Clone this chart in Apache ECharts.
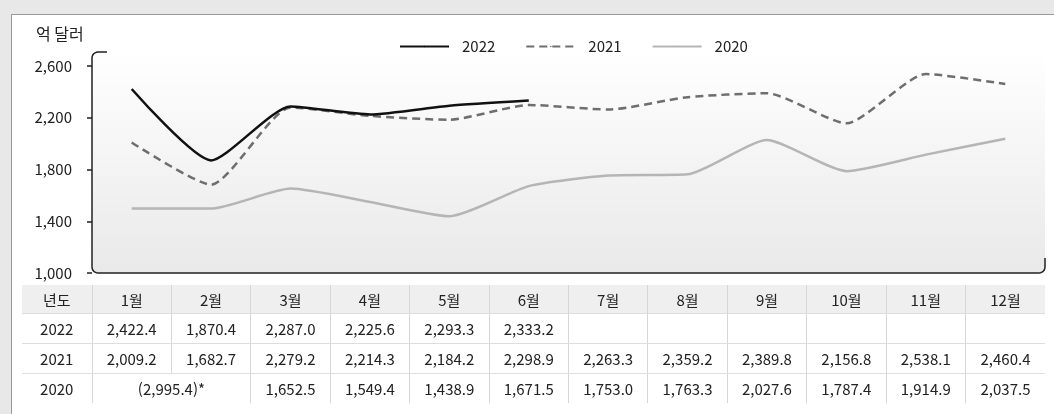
<!DOCTYPE html>
<html lang="ko">
<head>
<meta charset="utf-8">
<title>월별 수출액</title>
<script src="https://cdn.jsdelivr.net/npm/echarts@6/dist/echarts.min.js"></script>
<style>
  html, body {
    margin: 0;
    padding: 0;
    background: #e8e8e8;
  }
  .frame {
    position: absolute;
    left: 11px;
    top: 14px;
    width: 1100px;
    height: 500px;
    background: #fff;
    border-top: 1px solid #9a9a9a;
    border-left: 1px solid #9a9a9a;
  }
  #chart {
    position: absolute;
    left: 0;
    top: 0;
    width: 1054px;
    height: 414px;
  }
  /* 표 영역 */
  #table {
    position: absolute;
    left: 22px;
    top: 285px;
    width: 1023px;
    border-collapse: collapse;
    table-layout: fixed;
    font-family: "Noto Sans CJK KR", sans-serif;
    font-size: 15px;
    color: #222;
  }
  #table td {
    text-align: center;
    height: 29px;
    padding: 0;
    border-left: 1px solid #d6d6d6;
    border-bottom: 1px solid #dedede;
    white-space: nowrap;
  }
  #table td:first-child { border-left: none; }
  #table tr:last-child td { border-bottom: none; }
  #table tr.head td { background: #efefef; height: 28px; }
</style>
</head>
<body>
<div class="frame"></div>
<div id="chart"></div>
<table id="table"></table>
<script>
// 데이터
const months = ['1월', '2월', '3월', '4월', '5월', '6월', '7월', '8월', '9월', '10월', '11월', '12월'];
const years = ['2022', '2021', '2020'];
const v2022 = [2422.4, 1870.4, 2287.0, 2225.6, 2293.3, 2333.2, null, null, null, null, null, null];
const v2021 = [2009.2, 1682.7, 2279.2, 2214.3, 2184.2, 2298.9, 2263.3, 2359.2, 2389.8, 2156.8, 2538.1, 2460.4];
// 2020년 1~2월은 합계만 표기, 그래프는 약 1,500 수준으로 그려짐
const v2020 = [1497.7, 1497.7, 1652.5, 1549.4, 1438.9, 1671.5, 1753.0, 1763.3, 2027.6, 1787.4, 1914.9, 2037.5];
const sum2020JanFeb = 2995.4;
const yTicks = [1000, 1400, 1800, 2200, 2600];

const GRID = { left: 92, right: 9, top: 66, bottom: 141 };
const W = 1054, H = 414;
const x0 = GRID.left, x1 = W - GRID.right, y1 = H - GRID.bottom, yTop = 52;
const FONT = '"Noto Sans CJK KR", sans-serif';

const fmt = v => v == null ? '' : v.toLocaleString('en-US', { minimumFractionDigits: 1, maximumFractionDigits: 1 });

// 둥근 모서리 점 (테두리용)
const corner = (cx, cy, r, a0, a1) => {
  const pts = [];
  for (let i = 0; i <= 6; i++) {
    const a = a0 + (a1 - a0) * i / 6;
    pts.push([cx + r * Math.cos(a), cy + r * Math.sin(a)]);
  }
  return pts;
};
const R = 6;
const framePoints = [
  [x0 + 15, yTop],
  ...corner(x0 + R, yTop + R, R, -Math.PI / 2, -Math.PI),
  ...corner(x0 + R, y1 - R, R, Math.PI, Math.PI / 2),
  ...corner(x1 - R, y1 - R, R, Math.PI / 2, 0),
  [x1, y1 - 15]
];

const chart = echarts.init(document.getElementById('chart'));

const option = {
  animation: false,
  textStyle: { fontFamily: FONT },
  title: {
    text: '억 달러',
    left: 31,
    top: 21,
    textStyle: { fontSize: 16, fontWeight: 'normal', color: '#222', fontFamily: FONT }
  },
  legend: {
    left: 394,
    top: 34,
    itemWidth: 49,
    itemHeight: 2,
    itemGap: 30,
    textStyle: { fontSize: 15, color: '#222', padding: [0, 0, 0, 8], fontFamily: FONT },
    data: years
  },
  grid: {
    left: GRID.left,
    right: GRID.right,
    top: GRID.top,
    bottom: GRID.bottom
  },
  xAxis: {
    type: 'category',
    data: months,
    boundaryGap: true,
    axisLine: { show: false },
    axisTick: { show: false },
    axisLabel: { show: false },
    splitLine: { show: false }
  },
  yAxis: {
    type: 'value',
    min: yTicks[0],
    max: yTicks[yTicks.length - 1],
    interval: 400,
    axisLine: { show: false },
    axisTick: { show: true, length: 5, lineStyle: { color: '#222', width: 1.5 } },
    axisLabel: {
      fontSize: 15,
      color: '#222',
      margin: 20,
      fontFamily: FONT,
      formatter: v => v.toLocaleString('en-US')
    },
    splitLine: { show: false }
  },
  graphic: [
    {
      // 그래프 영역 배경
      type: 'rect',
      z: -10,
      silent: true,
      shape: { x: x0, y: yTop, width: x1 - x0, height: y1 - yTop, r: [R, 0, R, R] },
      style: {
        fill: new echarts.graphic.LinearGradient(0, 0, 0, 1, [
          { offset: 0, color: '#ffffff' },
          { offset: 1, color: '#e9e9e9' }
        ])
      }
    },
    {
      // 그래프 테두리
      type: 'polyline',
      z: 1,
      silent: true,
      shape: { points: framePoints },
      style: { fill: 'none', stroke: '#222', lineWidth: 1.5 }
    }
  ],
  series: [
    {
      name: '2022',
      type: 'line',
      data: v2022,
      smooth: 0.2,
      symbol: 'none',
      z: 5,
      lineStyle: { color: '#111', width: 2.5 },
      itemStyle: { color: '#111' }
    },
    {
      name: '2021',
      type: 'line',
      data: v2021,
      smooth: 0.2,
      symbol: 'none',
      z: 4,
      lineStyle: { color: '#6e6e6e', width: 2.5, type: [8, 5] },
      itemStyle: { color: '#6e6e6e' }
    },
    {
      name: '2020',
      type: 'line',
      data: v2020,
      smooth: 0.2,
      symbol: 'none',
      z: 3,
      lineStyle: { color: '#b5b5b5', width: 2.5 },
      itemStyle: { color: '#b5b5b5' }
    }
  ]
};

chart.setOption(option);

// 표 만들기
const table = document.getElementById('table');
const colW = (x1 - x0) / months.length;
let html = `<colgroup><col style="width:${x0 - 22}px">`;
months.forEach(() => { html += `<col style="width:${colW}px">`; });
html += '</colgroup>';
html += '<tr class="head"><td>년도</td>' + months.map(m => `<td>${m}</td>`).join('') + '</tr>';
html += '<tr><td>2022</td>' + v2022.map(v => `<td>${fmt(v)}</td>`).join('') + '</tr>';
html += '<tr><td>2021</td>' + v2021.map(v => `<td>${fmt(v)}</td>`).join('') + '</tr>';
html += `<tr><td>2020</td><td colspan="2">(${fmt(sum2020JanFeb)})*</td>` +
  v2020.slice(2).map(v => `<td>${fmt(v)}</td>`).join('') + '</tr>';
table.innerHTML = html;
</script>
</body>
</html>
